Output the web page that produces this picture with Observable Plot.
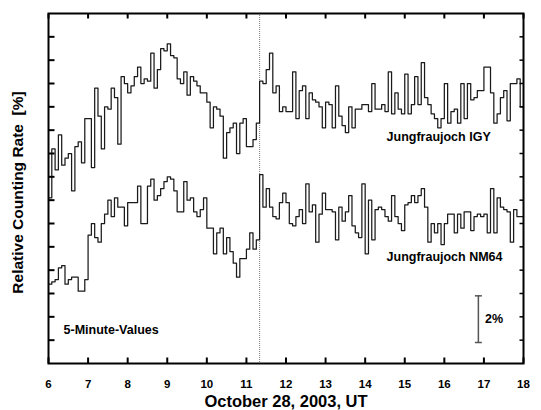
<!DOCTYPE html>
<html><head><meta charset="utf-8">
<script src="https://cdn.jsdelivr.net/npm/d3@7"></script>
<script src="https://cdn.jsdelivr.net/npm/@observablehq/plot@0.6"></script>
<style>
html,body{margin:0;padding:0;background:#fff;}
#chart svg{display:block;}
</style>
</head><body><div id="chart"></div>
<script>
// 5-minute values, October 28, 2003, starting 06:00 UT (relative counting rate, %)
const startHour = 6;
const endHour = 18;
const stepHours = 5 / 60;
const igy = [
7.1,9.2,8.3,9.8,8.5,8.8,9.0,7.4,9.3,9.5,8.6,10.5,10.5,8.4,11.8,10.6,9.2,11.0,10.9,11.8,
11.4,9.4,12.3,12.0,11.6,11.9,12.3,12.7,12.0,12.2,12.1,13.3,11.8,12.6,13.5,13.4,13.7,13.2,13.1,12.2,
12.0,12.5,11.5,12.3,12.1,11.9,11.6,11.6,11.2,10.1,11.0,10.9,10.6,8.8,9.9,10.1,10.3,9.0,10.3,10.5,
9.3,9.3,9.6,10.3,12.1,12.0,12.6,13.3,11.6,11.9,10.8,11.0,10.8,10.8,12.5,10.5,11.7,11.9,10.5,11.6,
11.3,11.2,11.0,10.1,11.2,11.1,10.1,11.9,10.6,10.2,9.9,11.0,10.1,10.9,10.9,11.1,11.1,10.8,12.0,10.9,
10.9,11.1,10.8,12.5,10.7,11.6,10.9,10.7,12.4,10.7,11.1,12.3,11.1,12.9,11.4,11.1,10.7,10.5,10.1,10.5,
12.0,10.3,10.8,10.9,10.3,12.0,10.5,12.0,11.3,11.4,11.7,11.7,12.7,12.7,11.6,10.3,10.7,11.4,11.7,10.4,
12.0,12.0,12.2,11.0
];
const nm64 = [
3.4,3.5,3.6,4.1,4.2,3.4,3.6,3.7,3.7,3.1,3.1,3.6,5.5,6.0,5.4,5.2,6.0,6.4,7.0,6.3,
7.1,6.7,6.7,5.9,6.9,6.9,6.9,7.6,6.0,6.0,7.6,7.9,7.0,7.2,7.5,7.8,8.0,7.9,7.4,6.5,
6.5,7.8,7.0,7.1,6.5,6.3,6.6,7.1,5.8,5.8,4.7,5.6,5.8,4.7,5.4,4.8,4.3,3.7,4.5,4.5,
4.9,5.6,4.9,5.3,8.1,6.7,7.5,6.7,6.3,6.2,6.9,7.3,6.9,6.0,5.9,6.3,6.6,6.0,7.7,6.5,
6.8,5.2,6.4,7.3,6.6,6.6,6.5,5.3,6.7,6.1,6.5,7.2,5.9,5.6,5.4,7.7,4.7,7.0,5.3,6.6,
6.7,6.6,6.3,6.1,7.2,6.3,6.0,5.7,6.8,6.9,7.2,6.9,7.2,7.5,6.7,5.2,6.0,5.6,6.0,5.1,
6.0,6.4,6.4,5.6,6.4,5.8,6.5,6.5,5.7,6.3,6.4,6.3,6.4,5.6,7.5,5.6,7.1,6.7,6.6,6.5,
5.2,6.6,6.3,6.3
];
const hourTicks = [6,7,8,9,10,11,12,13,14,15,16,17,18];
const percentTicks = [1,2,3,4,5,6,7,8,9,10,11,12,13,14];
const eventTime = [11 + 20/60];
const seriesLabels = [
  {text: "Jungfraujoch IGY", x: 14.54, y: 9.7},
  {text: "Jungfraujoch NM64", x: 14.54, y: 4.56}
];
const noteLabels = [
  {text: "5-Minute-Values", x: 6.38, y: 1.45},
  {text: "2%", x: 17.03, y: 1.92}
];
const scaleBar = [{x: 16.86, y1: 0.9, y2: 2.9}];
const scaleCaps = [{x: 16.86, y: 0.9}, {x: 16.86, y: 2.9}];

function toRows(values) {
  const rows = values.map((v, k) => ({t: startHour + k * stepHours, v}));
  rows.push({t: endHour, v: values[values.length - 1]});
  return rows;
}
const igyRows = toRows(igy);
const nmRows = toRows(nm64);

const tickShape = {draw(ctx, l) { ctx.moveTo(0, 0); ctx.lineTo(0, -l); }};
const font = "'Liberation Sans', Arial, Helvetica, sans-serif";

const chart = Plot.plot({
  width: 541,
  height: 410,
  marginLeft: 48,
  marginRight: 18,
  marginTop: 13,
  marginBottom: 47,
  style: {fontFamily: font, background: "white", color: "black"},
  x: {domain: [startHour, endHour]},
  y: {domain: [0, 15], axis: null},
  marks: [
    Plot.ruleX(eventTime, {stroke: "#808080", strokeWidth: 1, strokeDasharray: "1,1"}),
    Plot.line(igyRows, {x: "t", y: "v", curve: "step-after", stroke: "#1a1a1a", strokeWidth: 1.25}),
    Plot.line(nmRows, {x: "t", y: "v", curve: "step-after", stroke: "#1a1a1a", strokeWidth: 1.25}),
    Plot.frame({stroke: "black", strokeWidth: 2}),
    Plot.vector(hourTicks, {x: d => d, frameAnchor: "bottom", anchor: "start", rotate: 0, length: 6, shape: tickShape, stroke: "black", strokeWidth: 2, strokeLinecap: "butt"}),
    Plot.vector(hourTicks, {x: d => d, frameAnchor: "top", anchor: "start", rotate: 180, length: 5, shape: tickShape, stroke: "black", strokeWidth: 2, strokeLinecap: "butt"}),
    Plot.vector(percentTicks, {y: d => d, frameAnchor: "left", anchor: "start", rotate: 90, length: 6, shape: tickShape, stroke: "black", strokeWidth: 2, strokeLinecap: "butt"}),
    Plot.vector(percentTicks, {y: d => d, frameAnchor: "right", anchor: "start", rotate: -90, length: 4, shape: tickShape, stroke: "black", strokeWidth: 1.5, strokeLinecap: "butt"}),
    Plot.axisX(hourTicks, {anchor: "bottom", tickSize: 0, tickPadding: 16, fontSize: 11.5, fontWeight: "bold", label: null, tickFormat: d => String(d)}),
    Plot.text(["October 28, 2003, UT"], {frameAnchor: "bottom", textAnchor: "middle", dy: 38, fontSize: 16.5, fontWeight: "bold", lineAnchor: "middle"}),
    Plot.text(["Relative Counting Rate\u00a0 [%]"], {frameAnchor: "left", textAnchor: "middle", rotate: -90, dx: -30, dy: 4, fontSize: 15.5, fontWeight: "bold", lineAnchor: "middle"}),
    Plot.text(seriesLabels, {x: "x", y: "y", text: "text", textAnchor: "start", lineAnchor: "middle", fontSize: 12.5, fontWeight: "bold"}),
    Plot.text(noteLabels, {x: "x", y: "y", text: "text", textAnchor: "start", lineAnchor: "middle", fontSize: 12.5, fontWeight: "bold"}),
    Plot.ruleX(scaleBar, {x: "x", y1: "y1", y2: "y2", stroke: "#555", strokeWidth: 1.5}),
    Plot.vector(scaleCaps, {x: "x", y: "y", anchor: "middle", rotate: 90, length: 7, shape: tickShape, stroke: "#555", strokeWidth: 1.5, strokeLinecap: "butt"})
  ]
});
document.getElementById("chart").appendChild(chart);
</script>
</body></html>
